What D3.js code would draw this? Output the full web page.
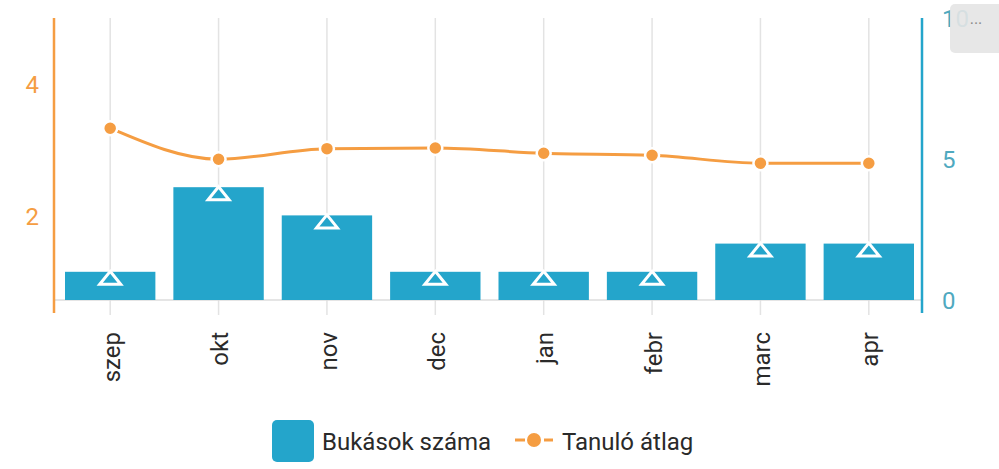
<!DOCTYPE html>
<html>
<head>
<meta charset="utf-8">
<script src="https://cdn.jsdelivr.net/npm/d3@7"></script>
<style>
  html, body { margin: 0; padding: 0; background: #fff; }
  svg { display: block; font-family: Roboto, "Noto Sans", sans-serif; }
</style>
</head>
<body>
<svg id="chart" width="999" height="469"></svg>
<script>
// Monthly data: number of failing grades (bars, right axis) and class average (line, left axis)
const months = ["szep", "okt", "nov", "dec", "jan", "febr", "marc", "apr"];
const failures = [1, 4, 3, 1, 1, 1, 2, 2];
const averages = [3.33, 2.86, 3.02, 3.03, 2.95, 2.92, 2.80, 2.80];
const leftTicks = [2, 4];
const rightTicks = [0, 5, 10];
const legendLabels = ["Bukások száma", "Tanuló átlag"];

const blue = "#24a5cb";
const orange = "#f59d42";
const grid = "#e3e3e3";

const svg = d3.select("#chart");

const x = d3.scaleBand().domain(months).range([56, 923])
  .paddingInner(0.166).paddingOuter(0.083);
const yLeft = d3.scaleLinear().domain([0, 5]).range([348, 18]);
const yRight = d3.scaleLinear().domain([0, 10]).range([300, 18]);
const cx = d => x(d) + x.bandwidth() / 2;

const plotTop = 18, plotBottom = 313;

// vertical gridlines at each month
svg.append("g").selectAll("line").data(months).join("line")
  .attr("x1", cx).attr("x2", cx)
  .attr("y1", plotTop).attr("y2", plotBottom + 2)
  .attr("stroke", grid).attr("stroke-width", 1.5);

// baseline
svg.append("line")
  .attr("x1", 54).attr("x2", 922)
  .attr("y1", yRight(0)).attr("y2", yRight(0))
  .attr("stroke", "#dcdcdc").attr("stroke-width", 1.5);

// bars
svg.append("g").selectAll("rect").data(months).join("rect")
  .attr("x", d => x(d))
  .attr("width", x.bandwidth())
  .attr("y", (d, i) => yRight(failures[i]))
  .attr("height", (d, i) => yRight(0) - yRight(failures[i]))
  .attr("fill", blue);

// triangle bullets on bars
const tri = "M0,-6.5L10.5,6.5L-10.5,6.5Z";
svg.append("g").selectAll("path").data(months).join("path")
  .attr("d", tri)
  .attr("transform", (d, i) => `translate(${cx(d)},${yRight(failures[i]) + 6})`)
  .attr("fill", blue)
  .attr("stroke", "#fff")
  .attr("stroke-width", 3)
  .attr("stroke-linejoin", "miter");

// average line
const line = d3.line()
  .x((d, i) => cx(months[i]))
  .y(d => yLeft(d))
  .curve(d3.curveMonotoneX);

svg.append("path")
  .datum(averages)
  .attr("d", line)
  .attr("fill", "none")
  .attr("stroke", orange)
  .attr("stroke-width", 3);

svg.append("g").selectAll("circle").data(averages).join("circle")
  .attr("cx", (d, i) => cx(months[i]))
  .attr("cy", d => yLeft(d))
  .attr("r", 7)
  .attr("fill", orange)
  .attr("stroke", "#fff")
  .attr("stroke-width", 2.5);

// left axis
svg.append("line")
  .attr("x1", 54).attr("x2", 54).attr("y1", plotTop).attr("y2", plotBottom)
  .attr("stroke", orange).attr("stroke-width", 2.5);
svg.append("g").selectAll("text").data(leftTicks).join("text")
  .attr("x", 39).attr("y", d => yLeft(d))
  .attr("dy", "0.36em")
  .attr("text-anchor", "end")
  .attr("font-size", 24)
  .attr("fill", orange)
  .text(d => d);

// right axis
svg.append("line")
  .attr("x1", 922).attr("x2", 922).attr("y1", plotTop).attr("y2", plotBottom)
  .attr("stroke", blue).attr("stroke-width", 2.5);
svg.append("g").selectAll("text").data(rightTicks).join("text")
  .attr("x", 942).attr("y", d => yRight(d))
  .attr("dy", "0.36em")
  .attr("font-size", 24)
  .attr("fill", "#4fa9bf")
  .text(d => d);

// month labels, rotated
svg.append("g").selectAll("text").data(months).join("text")
  .attr("transform", d => `translate(${cx(d) + 1},332) rotate(-90)`)
  .attr("dy", "0.36em")
  .attr("text-anchor", "end")
  .attr("font-size", 24)
  .attr("fill", "#2a2a2a")
  .text(d => d);

// legend
const lg = svg.append("g");
lg.append("rect")
  .attr("x", 272).attr("y", 420).attr("width", 42).attr("height", 42)
  .attr("rx", 5).attr("fill", blue);
lg.append("text")
  .attr("x", 322).attr("y", 441).attr("dy", "0.36em")
  .attr("font-size", 24).attr("fill", "#2a2a2a")
  .text(legendLabels[0]);
lg.selectAll("line.dash").data([[515, 525], [544, 553]]).join("line")
  .attr("class", "dash")
  .attr("x1", d => d[0]).attr("x2", d => d[1])
  .attr("y1", 440).attr("y2", 440)
  .attr("stroke", orange).attr("stroke-width", 3);
lg.append("circle")
  .attr("cx", 534).attr("cy", 440).attr("r", 7)
  .attr("fill", orange);
lg.append("text")
  .attr("x", 562).attr("y", 441).attr("dy", "0.36em")
  .attr("font-size", 24).attr("fill", "#2a2a2a")
  .text(legendLabels[1]);

// menu button
const btn = svg.append("g");
btn.append("rect")
  .attr("x", 950).attr("y", 4).attr("width", 56).attr("height", 49)
  .attr("rx", 5).attr("fill", "#e4e4e4").attr("fill-opacity", 0.9);
btn.append("text")
  .attr("x", 976).attr("y", 24)
  .attr("text-anchor", "middle")
  .attr("font-size", 16).attr("fill", "#8a8a8a")
  .text("...");
</script>
</body>
</html>
